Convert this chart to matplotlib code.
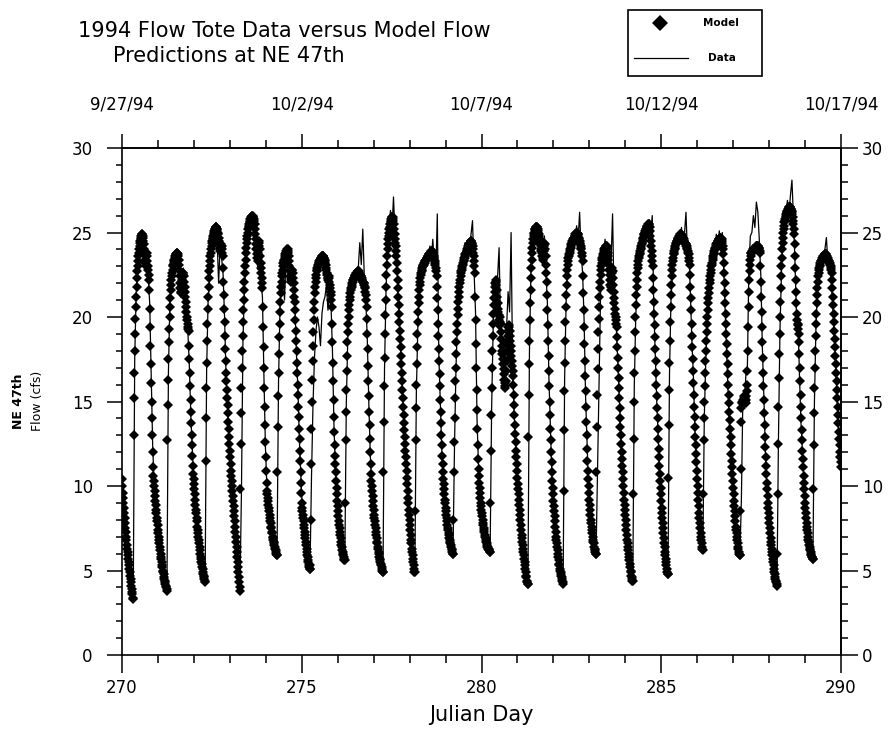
import numpy as np
import matplotlib
matplotlib.use("Agg")
import matplotlib.pyplot as plt
from matplotlib.ticker import MultipleLocator
from matplotlib.lines import Line2D
from matplotlib.patches import Rectangle

plt.rcParams['font.family'] = ['DejaVu Sans']

# Julian day at which each run of values starts (one run per diurnal cycle)
cycle_start = [270.0, 270.3125, 271.25, 272.3125, 273.28125, 274.3125, 275.22917,
               276.19792, 277.26042, 278.14583, 279.20833, 280.23958, 281.29167,
               282.27083, 283.1875, 284.20833, 285.1875, 286.15625, 287.1875,
               288.21875, 289.21875]

# model flow (cfs), 15 minute steps from each cycle start
model_flow = [
    # 270.0
    [10.4, 10.0, 9.6, 9.3, 9.0, 8.7, 8.4, 8.1, 7.8, 7.5, 7.3, 7.0, 6.8, 6.5, 6.3, 6.1, 5.9, 5.7,
     5.5, 5.3, 5.1, 4.9, 4.7, 4.5, 4.3, 4.1, 3.9, 3.7, 3.6, 3.4],
    # 270.3
    [3.3, 13.0, 15.2, 16.7, 18.0, 19.0, 19.9, 20.6, 21.2, 21.8, 22.3,
     22.7, 23.0, 23.3, 23.6, 23.8, 24.0, 24.2, 24.4, 24.5, 24.6, 24.7, 24.8, 24.9, 24.9,
     24.8, 24.7, 24.5, 24.3, 24.0, 23.7, 23.4, 23.2, 23.0, 23.3, 23.6, 23.8, 23.6, 23.3, 23.0, 22.8, 22.5, 22.2,
     21.6, 20.5, 19.4, 18.3, 17.2, 16.1, 15.0, 14.0, 13.0, 12.0, 11.1,
     10.6, 10.3, 10.0, 9.7, 9.4, 9.1, 8.9, 8.6, 8.4, 8.1, 7.9, 7.7, 7.4, 7.2, 7.0, 6.8, 6.6, 6.4,
     6.2, 6.0, 5.8, 5.7, 5.5, 5.3, 5.2, 5.0, 4.9, 4.8, 4.6, 4.5, 4.4, 4.3, 4.2, 4.1, 4.0, 3.9],
    # 271.25
    [3.8, 12.7, 14.8, 16.3, 17.5, 18.5, 19.3, 20.0, 20.6, 21.1, 21.6,
     21.9, 22.2, 22.4, 22.6, 22.8, 23.0, 23.1, 23.2, 23.3, 23.4, 23.5, 23.6, 23.6, 23.7, 23.7, 23.8, 23.8, 23.8, 23.7, 23.6,
     23.4, 23.1, 22.8, 22.4, 22.0, 21.7, 21.5, 21.4, 21.6, 21.9, 22.2, 22.5, 22.6, 22.6, 22.4, 22.1, 21.8, 21.5,
     21.2, 20.9, 20.6, 20.3, 20.0, 19.8, 19.6, 19.4, 19.3, 19.2,
     18.3, 17.5, 16.7, 15.9, 15.1, 14.4, 13.7, 13.0, 12.4, 11.8, 11.2, 10.7,
     10.4, 10.1, 9.8, 9.5, 9.2, 8.9, 8.6, 8.4, 8.1, 7.9, 7.6, 7.4, 7.2, 7.0, 6.8, 6.6, 6.4, 6.2,
     6.0, 5.8, 5.7, 5.5, 5.4, 5.2, 5.1, 4.9, 4.8, 4.7, 4.6, 4.5, 4.4],
    # 272.3
    [4.3, 11.5, 14.0, 15.8, 17.3, 18.6, 19.6, 20.5, 21.2, 21.8, 22.3,
     22.7, 23.0, 23.3, 23.6, 23.8, 24.0, 24.2, 24.4, 24.5, 24.6, 24.7, 24.8, 24.9, 25.0, 25.1, 25.2,
     25.2, 25.3, 25.3, 25.3, 25.2, 25.2,
     25.1, 25.0, 24.9, 24.7, 24.5, 24.3, 24.1, 24.0, 23.9, 24.1, 24.3, 24.2, 24.0, 23.8, 23.6,
     22.9, 22.1, 21.3, 20.5, 19.7, 18.9, 18.1, 17.4, 16.7,
     16.2, 15.7, 15.2, 14.8, 14.3, 13.8, 13.4, 12.9, 12.5, 12.1, 11.7, 11.3, 10.9,
     10.6, 10.3, 10.0, 9.7, 9.4, 9.1, 8.8, 8.5, 8.2, 7.9, 7.6, 7.3, 7.0, 6.7, 6.4, 6.1, 5.8,
     5.5, 5.2, 4.9, 4.6, 4.3, 4.0],
    # 273.3
    [3.8, 9.8, 12.5, 14.3, 15.8, 17.0, 18.0, 18.9, 19.7, 20.4, 21.0, 21.6, 22.1, 22.6, 23.0, 23.4,
     23.8, 24.1, 24.4,
     24.6, 24.8, 25.0, 25.2, 25.3, 25.4, 25.5, 25.6, 25.7, 25.8, 25.8, 25.9, 25.9, 26.0, 26.0, 26.0, 25.9,
     25.9, 25.8, 25.7, 25.5, 25.2, 24.9, 24.6, 24.3, 24.0, 23.7, 23.5, 23.3, 23.5, 23.8, 24.2, 24.5,
     24.4, 24.0, 23.6, 23.2, 22.9, 22.6, 22.3, 22.0, 21.7,
     20.6, 19.4, 18.2, 17.0, 15.8, 14.7, 13.6, 12.6, 11.7, 10.9, 10.2,
     9.7, 9.5, 9.3, 9.1, 8.9, 8.7, 8.5, 8.3, 8.1, 7.9, 7.8, 7.6, 7.5, 7.3, 7.2, 7.0, 6.9, 6.8,
     6.7, 6.6, 6.5, 6.4, 6.3, 6.2, 6.1, 6.0, 5.9],
    # 274.3
    [5.9, 10.8, 13.5, 15.3, 16.7, 17.8, 18.8, 19.6, 20.3, 20.9, 21.4,
     21.8, 22.1, 22.4, 22.6, 22.8, 23.0, 23.2, 23.3, 23.4, 23.5, 23.6, 23.7, 23.8, 23.8, 23.9, 23.9,
     24.0, 24.0, 23.9, 23.8,
     23.6, 23.3, 23.0, 22.7, 22.4, 22.2, 22.1, 22.3, 22.6, 22.8, 22.8, 22.6, 22.3, 22.0, 21.6, 21.2, 20.9,
     20.4, 19.8, 19.2, 18.6, 18.0, 17.3, 16.7, 16.0, 15.4, 14.7, 14.1, 13.4, 12.8, 12.1, 11.5, 10.8,
     10.2, 9.6, 9.0,
     8.7, 8.5, 8.3, 8.1, 7.9, 7.7, 7.5, 7.3, 7.1, 6.9, 6.7, 6.5, 6.3, 6.1, 5.9, 5.8, 5.6, 5.5, 5.3,
     5.2, 5.1],
    # 275.2
    [5.1, 5.3, 8.0, 11.3, 13.4, 15.0, 16.3, 17.4, 18.3, 19.1, 19.8, 20.4, 20.9, 21.4, 21.8,
     22.1, 22.3, 22.5, 22.7, 22.8, 22.9, 23.0, 23.1, 23.2, 23.2, 23.3, 23.3, 23.4, 23.4, 23.5, 23.5,
     23.5, 23.6, 23.6, 23.6, 23.6, 23.6, 23.5, 23.5, 23.4, 23.3,
     23.2, 23.1, 22.9, 22.8, 22.6, 22.5, 22.3, 22.2, 22.3, 22.4, 22.3, 22.1, 21.9, 21.7, 21.5, 21.3,
     21.0, 20.6,
     19.6, 18.5, 17.3, 16.2, 15.1, 14.1, 13.2, 12.4,
     11.8, 11.3, 10.8, 10.3, 9.9, 9.5, 9.1, 8.8, 8.5, 8.2, 7.9, 7.7, 7.5, 7.3, 7.1, 6.9, 6.7, 6.5,
     6.4, 6.2, 6.1, 6.0, 5.9, 5.8, 5.7, 5.6],
    # 276.2
    [5.6, 9.0, 12.7, 14.4, 15.7, 16.8, 17.7, 18.5, 19.1, 19.6, 20.0, 20.4, 20.7,
     21.0, 21.2, 21.4, 21.6, 21.7, 21.8, 21.9, 22.0, 22.1, 22.2, 22.2, 22.3, 22.3, 22.4, 22.4, 22.5,
     22.5, 22.5, 22.6, 22.6, 22.6, 22.7, 22.7, 22.7, 22.7, 22.6, 22.6, 22.5,
     22.5, 22.4, 22.4, 22.3, 22.3, 22.2, 22.2, 22.1, 22.1, 22.0, 22.0, 21.9, 21.8, 21.7, 21.5, 21.3,
     21.0, 20.6,
     19.9, 19.0, 18.1, 17.1, 16.2, 15.3, 14.4, 13.6, 12.8, 12.0, 11.3, 10.7,
     10.3, 10.0, 9.7, 9.4, 9.1, 8.8, 8.6, 8.3, 8.1, 7.9, 7.7, 7.5, 7.3, 7.1, 6.9, 6.7, 6.6, 6.4,
     6.3, 6.1, 6.0, 5.8, 5.7, 5.6, 5.5, 5.4, 5.3, 5.2, 5.1, 5.0, 4.9],
    # 277.3
    [4.9, 10.8, 13.8, 15.9, 17.6, 19.0, 20.1, 21.0, 21.8, 22.5, 23.1,
     23.6, 24.0, 24.3, 24.6, 24.8, 25.0, 25.2, 25.3, 25.5, 25.6, 25.7, 25.8, 25.8, 25.9, 25.9, 25.9,
     25.8,
     25.7, 25.5, 25.2, 24.9, 24.6, 24.4, 24.2, 23.9, 23.6,
     23.2, 22.7, 22.2, 21.7, 21.2, 20.7, 20.2, 19.7, 19.2, 18.7, 18.2, 17.7, 17.2, 16.7, 16.2, 15.7,
     15.2, 14.7, 14.2, 13.7, 13.3, 12.9, 12.5, 12.1, 11.7, 11.3, 10.9,
     10.5, 10.1, 9.7, 9.3, 9.0, 8.6, 8.3, 8.0, 7.7, 7.4, 7.1, 6.8, 6.6, 6.3, 6.1, 5.9, 5.7, 5.5,
     5.3, 5.1, 4.9],
    # 278.1
    [4.9, 8.5, 12.7, 14.6, 16.0, 17.2, 18.2, 19.0, 19.7, 20.3, 20.8, 21.2, 21.6,
     21.9, 22.1, 22.3, 22.5, 22.6, 22.7, 22.8, 22.9, 23.0, 23.0, 23.1, 23.1, 23.2, 23.2, 23.3, 23.3,
     23.4, 23.4, 23.4, 23.5, 23.5, 23.5, 23.6, 23.6, 23.6, 23.7, 23.7, 23.7, 23.8, 23.8, 23.8, 23.9,
     23.9, 23.9, 23.9, 23.8,
     23.7, 23.6, 23.5, 23.4, 23.3, 23.2, 23.1, 22.9, 22.7, 22.4,
     21.8, 21.1, 20.4, 19.6, 18.9, 18.1, 17.4, 16.6, 15.9, 15.1, 14.4, 13.7, 13.0, 12.4, 11.8, 11.3,
     10.8,
     10.4, 10.1, 9.8, 9.5, 9.2, 9.0, 8.7, 8.5, 8.3, 8.1, 7.9, 7.7, 7.5, 7.4, 7.2, 7.1, 6.9, 6.8,
     6.7, 6.6, 6.5, 6.4, 6.3, 6.2, 6.1, 6.0],
    # 279.2
    [6.0, 8.0, 10.8, 12.6, 14.0, 15.2, 16.2, 17.0, 17.8, 18.5, 19.1, 19.6, 20.1, 20.5, 20.9, 21.2,
     21.5, 21.8, 22.0, 22.2, 22.4,
     22.6, 22.7, 22.8, 22.9, 23.0, 23.1, 23.2, 23.3, 23.4, 23.5, 23.5, 23.6, 23.7, 23.7, 23.8, 23.9,
     23.9, 24.0, 24.1, 24.1, 24.2, 24.2, 24.3, 24.3, 24.4, 24.4, 24.5, 24.5, 24.5, 24.4,
     24.3, 24.2, 24.0, 23.8, 23.6, 23.3, 23.0, 22.6,
     21.2, 19.8, 18.4, 17.0, 15.7, 14.5, 13.4, 12.4, 11.6,
     11.0, 10.6, 10.2, 9.9, 9.6, 9.3, 9.0, 8.8, 8.6, 8.4, 8.2, 8.0, 7.8, 7.7, 7.5, 7.4, 7.3, 7.1,
     7.0, 6.9, 6.8, 6.7, 6.6, 6.5, 6.4, 6.4, 6.3, 6.3, 6.2, 6.2, 6.1],
    # 280.2
    [6.1, 9.0, 12.1, 14.2, 15.8, 17.0, 18.0, 18.9, 19.6, 20.2, 20.7, 21.1, 21.5, 21.8, 22.0,
     22.2, 22.1, 21.9, 21.6, 21.2, 20.8, 20.5, 20.3, 20.1, 19.8, 19.5, 19.7, 20.0, 19.6, 19.1, 18.7,
     18.3, 18.0, 17.8, 17.5, 17.2, 16.9, 16.6, 16.3, 16.1, 15.9, 15.8, 16.2, 16.8, 17.4, 18.0, 18.5,
     18.9, 19.2, 19.4, 19.5, 19.4, 19.2, 18.9, 18.6, 18.3, 18.0, 17.7, 17.4, 17.1, 16.8, 16.5,
     16.0, 15.4, 14.8, 14.2, 13.6, 13.1, 12.6, 12.1, 11.7, 11.3, 10.9, 10.5, 10.1, 9.8, 9.5, 9.2,
     8.9, 8.6, 8.3, 8.0, 7.7, 7.4, 7.1, 6.9, 6.7, 6.5, 6.3, 6.1, 5.9, 5.7, 5.5, 5.3, 5.1, 4.9, 4.7,
     4.6, 4.4, 4.3, 4.2],
    # 281.3
    [4.2, 12.9, 15.4, 17.2, 18.6, 19.8, 20.8, 21.6, 22.3, 22.9, 23.4,
     23.8, 24.1, 24.4, 24.6, 24.8, 24.9, 25.0, 25.1, 25.2, 25.2, 25.3, 25.3, 25.3, 25.3, 25.2, 25.2,
     25.1,
     25.0, 24.9, 24.8, 24.6, 24.5, 24.3, 24.2, 24.0, 23.9, 23.8, 23.6, 23.5, 23.4, 23.6, 23.9, 24.2,
     24.4, 24.3, 24.0, 23.6, 23.1, 22.6, 22.1,
     21.3, 20.4, 19.5, 18.6, 17.7, 16.8, 15.9, 15.0, 14.2, 13.4, 12.7, 12.0, 11.4, 10.8,
     10.3, 9.9, 9.5, 9.1, 8.8, 8.5, 8.2, 7.9, 7.6, 7.3, 7.0, 6.8, 6.6, 6.4, 6.2, 6.0, 5.8, 5.6,
     5.4, 5.3, 5.1, 5.0, 4.9, 4.8, 4.7, 4.6, 4.5, 4.4, 4.3],
    # 282.3
    [4.2, 9.7, 13.3, 15.6, 17.3, 18.6, 19.7, 20.6, 21.3, 21.9, 22.4, 22.8, 23.1,
     23.3, 23.5, 23.6, 23.7, 23.8, 23.9, 24.0, 24.1, 24.2, 24.3, 24.3, 24.4, 24.5, 24.5, 24.6, 24.6,
     24.7, 24.7, 24.8, 24.8, 24.9, 24.9, 25.0, 25.0, 25.0, 25.0, 24.9, 24.9,
     24.8, 24.7, 24.6, 24.5, 24.4, 24.3, 24.2, 24.1, 24.0, 23.8, 23.6, 23.3,
     22.4, 21.4, 20.4, 19.4, 18.4, 17.4, 16.5, 15.6, 14.7, 13.8, 13.0, 12.2, 11.5,
     10.9, 10.4, 10.0, 9.6, 9.2, 8.9, 8.6, 8.3, 8.0, 7.8, 7.6, 7.4, 7.2, 7.0, 6.8, 6.7, 6.6, 6.4,
     6.3, 6.2, 6.1, 6.0],
    # 283.2
    [6.0, 10.8, 13.5, 15.4, 16.9, 18.1, 19.1, 19.9, 20.6, 21.2, 21.7, 22.1, 22.5,
     22.8, 23.0, 23.2, 23.4, 23.5, 23.6, 23.7, 23.8, 23.9, 24.0, 24.0, 24.1, 24.1, 24.2, 24.2, 24.2,
     24.1, 24.0,
     23.8, 23.6, 23.4, 23.1, 22.8, 22.5, 22.2, 21.9, 21.6, 21.8, 22.2, 22.6, 22.9, 22.7, 22.3, 21.9,
     21.5, 21.1, 20.8, 20.5, 20.2, 20.0, 19.8, 19.6, 19.4,
     18.8, 18.2, 17.6, 17.0, 16.4, 15.8, 15.2, 14.6, 14.0, 13.5, 13.0, 12.5, 12.0, 11.6, 11.2, 10.8,
     10.4,
     10.0, 9.6, 9.2, 8.9, 8.6, 8.3, 8.0, 7.7, 7.4, 7.1, 6.8, 6.6, 6.4, 6.2, 6.0, 5.8, 5.6, 5.4,
     5.2, 5.0, 4.9, 4.7, 4.6, 4.5, 4.4],
    # 284.2
    [4.4, 9.5, 12.8, 15.0, 16.7, 18.0, 19.1, 20.0, 20.7, 21.3, 21.8, 22.2, 22.6,
     22.9, 23.1, 23.3, 23.5, 23.6, 23.7, 23.8, 23.9, 24.0, 24.1, 24.2, 24.3, 24.4, 24.5, 24.6, 24.7,
     24.8, 24.9, 24.9, 25.0, 25.1, 25.1, 25.2, 25.2, 25.3, 25.3, 25.4, 25.4, 25.5, 25.5, 25.5, 25.4,
     25.3, 25.1,
     24.8, 24.5, 24.2, 23.9, 23.6, 23.3, 23.0,
     22.3, 21.6, 20.9, 20.2, 19.5, 18.8, 18.1, 17.4, 16.7, 16.0, 15.3, 14.6, 14.0, 13.4, 12.8, 12.2,
     11.7, 11.2, 10.7,
     10.3, 9.9, 9.5, 9.1, 8.7, 8.4, 8.1, 7.8, 7.5, 7.2, 6.9, 6.6, 6.4, 6.1, 5.9, 5.7, 5.5, 5.3,
     5.1, 4.9, 4.8],
    # 285.2
    [4.8, 10.5, 13.6, 15.7, 17.3, 18.6, 19.7, 20.6, 21.3, 21.9, 22.4, 22.8, 23.1,
     23.3, 23.5, 23.7, 23.8, 23.9, 24.0, 24.1, 24.2, 24.3, 24.4, 24.4, 24.5, 24.5, 24.6, 24.6, 24.7,
     24.7, 24.8, 24.8, 24.8, 24.9, 24.9, 24.9, 24.9, 24.8, 24.8,
     24.7, 24.7, 24.6, 24.6, 24.5, 24.5, 24.4, 24.4, 24.3, 24.3, 24.2, 24.2, 24.1, 24.0, 23.9, 23.8,
     23.7, 23.5, 23.3, 23.1,
     22.5, 21.8, 21.1, 20.4, 19.6, 18.9, 18.2, 17.5, 16.8, 16.1, 15.4, 14.7, 14.1, 13.5, 12.9, 12.4,
     11.9, 11.4, 10.9, 10.4, 10.0, 9.6, 9.2, 8.8, 8.4, 8.1, 7.8, 7.5, 7.2, 7.0, 6.8, 6.6, 6.4, 6.3],
    # 286.2
    [6.2, 9.5, 12.7, 14.0, 15.0, 15.9, 16.7, 17.4, 18.0, 18.6, 19.1, 19.6, 20.0, 20.4, 20.8, 21.1,
     21.4, 21.7, 22.0, 22.2, 22.4, 22.6, 22.8, 23.0, 23.1, 23.2, 23.4, 23.5,
     23.6, 23.7, 23.8, 23.9, 24.0, 24.1, 24.1, 24.2, 24.3, 24.3, 24.4, 24.4, 24.5, 24.5, 24.6, 24.6,
     24.6, 24.7, 24.7, 24.7, 24.7, 24.6, 24.6, 24.5,
     24.4, 24.2, 24.0, 23.7,
     23.2, 22.6, 22.0, 21.4, 20.8, 20.2, 19.6, 19.0, 18.4, 17.8, 17.2, 16.6, 16.0, 15.4, 14.9, 14.4,
     13.9, 13.4, 12.9, 12.4, 11.9, 11.5, 11.1, 10.7,
     10.3, 9.9, 9.5, 9.1, 8.8, 8.5, 8.2, 7.9, 7.6, 7.4, 7.2, 7.0, 6.8, 6.6, 6.4, 6.3, 6.1, 6.0, 5.9],
    # 287.2
    [5.9, 8.5, 11.0, 13.8,
     14.6, 14.9, 15.0, 15.1, 15.0, 14.9, 15.0, 15.2, 15.3, 15.2, 15.0, 14.9, 15.1, 15.3, 15.6, 16.0,
     16.8, 18.0,
     19.4, 20.6, 21.5, 22.2, 22.7, 23.1, 23.4, 23.6, 23.8,
     23.8, 23.8, 23.9, 23.9, 23.9, 24.0, 24.0, 24.0, 24.0, 24.1, 24.1, 24.1, 24.1, 24.2, 24.2, 24.2,
     24.2, 24.2, 24.2, 24.1, 24.1, 24.0, 23.9, 23.8,
     23.0, 22.1, 21.2, 20.3, 19.4, 18.5, 17.6, 16.7, 15.9, 15.1, 14.3, 13.6, 12.9, 12.3, 11.7, 11.2,
     10.7, 10.2,
     9.8, 9.4, 9.0, 8.7, 8.4, 8.1, 7.8, 7.5, 7.2, 6.9, 6.7, 6.5, 6.3, 6.1, 5.9, 5.7, 5.5, 5.3,
     5.1, 4.9, 4.8, 4.6, 4.5, 4.4, 4.3, 4.2],
    # 288.2
    [4.1, 6.0, 9.5, 12.5, 14.7, 16.4, 17.8, 19.0, 20.0, 20.9, 21.7, 22.4, 23.0, 23.5, 24.0,
     24.4, 24.7, 25.0, 25.2, 25.4, 25.6, 25.7, 25.8, 25.9, 26.0, 26.1, 26.2, 26.2, 26.3, 26.3, 26.4,
     26.4, 26.5, 26.5, 26.5, 26.5, 26.5, 26.4, 26.4, 26.3, 26.2,
     26.1, 25.9, 25.7, 25.5, 25.2, 24.9,
     24.3, 23.6, 22.9, 22.2, 21.5, 20.8, 20.2, 19.8, 19.6, 19.5, 19.3, 19.0, 18.5, 17.8, 17.0, 16.2,
     15.4, 14.7, 14.0, 13.3, 12.7, 12.1, 11.6, 11.1,
     10.6, 10.2, 9.8, 9.4, 9.0, 8.7, 8.4, 8.1, 7.8, 7.6, 7.4, 7.2, 7.0, 6.8, 6.7, 6.5, 6.4, 6.3,
     6.2, 6.1, 6.0, 5.9, 5.8, 5.8, 5.7],
    # 289.2
    [5.7, 9.8, 12.4, 14.3, 15.8, 17.0, 18.0, 18.9, 19.6, 20.2, 20.8, 21.3, 21.7, 22.1, 22.4,
     22.6, 22.8, 22.9, 23.0, 23.1, 23.2, 23.3, 23.3, 23.4, 23.4, 23.5, 23.5, 23.5, 23.6, 23.6, 23.6,
     23.7, 23.7, 23.7, 23.7, 23.7, 23.6, 23.6,
     23.5, 23.5, 23.4, 23.4, 23.3, 23.3, 23.2, 23.2, 23.1, 23.0, 22.9, 22.8, 22.6,
     22.2, 21.7, 21.2, 20.7, 20.2, 19.7, 19.2, 18.7, 18.2, 17.7, 17.2, 16.7, 16.2, 15.7, 15.2, 14.7,
     14.2, 13.7, 13.2, 12.8, 12.4, 12.0, 11.7, 11.4, 11.1],
]

# flow tote data (cfs), hourly from each cycle start
tote_flow = [
    [10.3, 9.1, 7.7, 6.9, 5.8, 5.0, 4.2, 3.4],
    [3.4, 17.6, 21.5, 22.8, 24.3, 24.5, 24.6, 24.0, 23.0, 23.5, 22.4, 20.8, 16.5, 12.3, 10.1, 8.8,
     7.8, 7.1, 6.1, 5.5, 5.0, 4.4, 3.9],
    [3.9, 16.8, 20.9, 22.5, 23.3, 23.1, 23.9, 23.5, 22.6, 21.2, 22.3, 22.9, 21.0, 19.8, 19.1, 17.0,
     14.0, 12.1, 10.2, 8.8, 7.8, 7.1, 6.1, 5.4, 4.8, 4.4],
    [4.4, 16.9, 21.0, 22.2, 23.8, 24.9, 24.3, 25.4, 24.6, 22.0, 24.2, 23.5, 22.5, 19.9, 16.4, 14.6,
     13.1, 11.2, 9.9, 8.9, 7.5, 6.3, 5.0, 3.8],
    [3.8, 9.7, 18.6, 21.6, 23.5, 24.6, 25.2, 26.0, 25.6, 26.1, 24.6, 23.6, 22.8, 24.6, 22.2, 21.2,
     16.5, 12.3, 9.9, 8.8, 8.2, 7.4, 7.0, 6.4, 6.0],
    [5.9, 16.2, 20.6, 21.8, 22.9, 21.0, 23.6, 24.1, 23.0, 21.9, 23.1, 21.7, 20.6, 17.7, 15.6, 12.5,
     10.4, 8.4, 7.8, 6.8, 6.2, 5.4],
    [5.0, 10.5, 14.8, 17.6, 19.2, 20.0, 19.4, 18.3, 20.2, 20.9, 21.2, 21.9, 20.4, 21.3, 20.8, 18.0,
     13.6, 11.0, 9.4, 8.0, 7.2, 6.6, 5.9, 5.5],
    [5.4, 14.9, 18.8, 20.4, 21.3, 21.8, 22.0, 22.6, 22.3, 22.9, 24.4, 23.1, 25.2, 22.4, 21.0, 18.7,
     15.0, 11.8, 10.2, 8.6, 7.9, 7.0, 6.5, 5.7, 5.3, 4.9],
    [4.8, 16.9, 21.5, 24.3, 25.4, 26.3, 25.2, 27.1, 24.9, 23.9, 21.4, 19.9, 17.4, 15.9, 13.5, 12.3,
     10.3, 9.1, 7.6, 6.7, 5.6, 4.9],
    [4.8, 15.5, 19.4, 21.8, 22.8, 22.5, 23.4, 22.9, 23.8, 23.2, 24.2, 23.5, 24.6, 23.0, 22.5, 26.1,
     17.8, 14.9, 12.1, 10.6, 9.0, 8.4, 7.4, 7.0, 6.4, 6.0],
    [6.1, 12.5, 17.1, 19.8, 21.6, 22.9, 22.6, 23.6, 24.4, 23.4, 24.3, 23.8, 24.9, 25.7, 22.8, 20.3,
     14.0, 11.2, 9.5, 8.7, 7.7, 7.4, 6.8, 6.6, 6.1],
    [6.0, 14.5, 19.2, 21.9, 21.0, 22.4, 24.1, 19.0, 18.6, 17.3, 16.4, 19.4, 21.5, 20.3, 25.0, 17.2,
     14.5, 12.3, 11.0, 9.3, 7.8, 7.0, 6.0, 5.2, 4.5, 4.1],
    [4.1, 17.9, 22.7, 24.4, 24.6, 25.0, 25.5, 24.6, 24.9, 23.5, 23.9, 24.8, 22.7, 20.8, 16.4, 13.6,
     10.6, 9.2, 7.8, 6.9, 5.9, 5.4, 4.8, 4.3],
    [4.3, 16.4, 20.9, 23.4, 23.5, 24.4, 24.1, 24.9, 24.5, 25.4, 24.6, 26.2, 23.8, 22.6, 19.8, 15.2,
     12.4, 9.8, 8.7, 7.5, 6.9, 6.2],
    [6.0, 11.0, 16.2, 21.4, 23.0, 23.9, 24.6, 23.7, 23.9, 22.0, 23.3, 26.1, 21.0, 20.4, 18.3, 16.1,
     14.2, 11.6, 10.5, 8.7, 7.8, 6.5, 5.9, 4.9, 4.4],
    [4.3, 15.9, 20.1, 21.8, 22.9, 23.4, 24.8, 24.1, 25.4, 24.6, 25.6, 24.9, 25.1, 26.0, 20.6, 17.8,
     15.0, 12.9, 10.5, 9.0, 7.7, 6.7, 5.6, 4.8],
    [4.7, 16.6, 21.0, 22.6, 23.5, 24.5, 24.1, 25.0, 24.6, 25.3, 24.4, 24.9, 26.2, 23.7, 23.9, 21.2,
     18.5, 16.4, 13.2, 11.6, 9.4, 8.2, 6.9, 6.2],
    [6.1, 14.1, 17.5, 19.6, 21.0, 22.9, 23.6, 24.4, 23.7, 24.9, 24.2, 25.1, 24.3, 25.0, 22.7, 20.1,
     17.6, 15.2, 13.0, 11.5, 10.0, 8.6, 7.5, 6.6, 6.0],
    [5.8, 9.2, 15.3, 14.8, 16.6, 17.0, 23.0, 24.8, 25.0, 26.0, 25.3, 26.8, 26.2, 24.5, 22.4, 18.2,
     15.3, 12.1, 10.0, 8.8, 7.4, 6.6, 5.6, 4.8, 4.2],
    [4.0, 12.8, 19.2, 22.6, 24.9, 25.2, 26.3, 26.9, 26.1, 27.2, 28.1, 25.9, 23.3, 20.2, 19.9, 16.6,
     13.8, 12.0, 10.3, 8.6, 7.7, 6.7, 6.2, 5.8],
    [5.6, 14.9, 19.3, 21.5, 23.0, 22.8, 23.8, 23.4, 24.0, 24.7, 23.2, 23.6, 22.4, 21.0, 19.2, 17.4,
     15.3, 13.4, 11.6],
]

date_ticks = [270, 275, 280, 285, 290]
date_labels = ['9/27/94', '10/2/94', '10/7/94', '10/12/94', '10/17/94']

# build time axes for both series
t_model = np.concatenate([s + np.arange(len(v)) / 96.0 for s, v in zip(cycle_start, model_flow)])
q_model = np.concatenate(model_flow)
t_data = np.concatenate([s + np.arange(len(v)) / 24.0 for s, v in zip(cycle_start, tote_flow)])
q_data = np.concatenate(tote_flow)

fig = plt.figure(figsize=(8.89, 7.34), dpi=100)
ax = fig.add_axes([122 / 889, 1 - 655 / 734, 719 / 889, 507 / 734])

ax.plot(t_model, q_model, ls='none', marker='D', ms=5.3, mew=0, color='black', zorder=2)
ax.plot(t_data, q_data, color='black', lw=0.9, zorder=3)

ax.set_xlim(270, 290)
ax.set_ylim(0, 30)
ax.xaxis.set_major_locator(MultipleLocator(5))
ax.xaxis.set_minor_locator(MultipleLocator(1))
ax.yaxis.set_major_locator(MultipleLocator(5))
ax.yaxis.set_minor_locator(MultipleLocator(1))

for sp in ax.spines.values():
    sp.set_linewidth(1.2)

ax.tick_params(which='both', direction='out', width=1.1, top=False, right=False, labelsize=12)
ax.tick_params(axis='y', which='major', length=11, pad=10)
ax.tick_params(axis='y', which='minor', length=4)
ax.tick_params(axis='x', which='major', length=13, pad=4)
ax.tick_params(axis='x', which='minor', length=6)

# flow scale repeated on the right
rax = ax.secondary_yaxis('right')
rax.yaxis.set_major_locator(MultipleLocator(5))
rax.yaxis.set_minor_locator(MultipleLocator(1))
rax.tick_params(which='both', direction='out', width=1.1, labelsize=12)
rax.tick_params(which='major', length=12, pad=3)
rax.tick_params(which='minor', length=5)
rax.spines['right'].set_linewidth(1.2)

# calendar dates along the top
top = ax.secondary_xaxis('top')
top.set_xticks(date_ticks, labels=date_labels)
top.xaxis.set_minor_locator(MultipleLocator(1))
top.tick_params(which='both', direction='out', width=1.1, labelsize=12)
top.tick_params(which='major', length=10, pad=15)
top.tick_params(which='minor', length=6)
top.spines['top'].set_linewidth(1.2)

# no offset labels on any of the scales
for a in (ax.xaxis, ax.yaxis, rax.yaxis, top.xaxis):
    a.offsetText.set_visible(False)

ax.set_xlabel('Julian Day', fontsize=15, labelpad=6)

fig.text(19 / 889, 1 - 401 / 734, 'NE 47th', rotation=90, ha='center', va='center',
         fontsize=9, fontweight='bold')
fig.text(37 / 889, 1 - 401 / 734, 'Flow (cfs)', rotation=90, ha='center', va='center',
         fontsize=9)

fig.text(78 / 889, 1 - 31 / 734, '1994 Flow Tote Data versus Model Flow',
         ha='left', va='center', fontsize=15)
fig.text(113 / 889, 1 - 56 / 734, 'Predictions at NE 47th',
         ha='left', va='center', fontsize=15)

# legend box
fig.patches.append(Rectangle((628 / 889, 1 - 76 / 734), 134 / 889, 66 / 734,
                             transform=fig.transFigure, fill=False, lw=1.2, ec='black'))
fig.lines.append(Line2D([660 / 889], [1 - 23 / 734], transform=fig.transFigure,
                        marker='D', ms=8, mew=0, color='black', ls='none'))
fig.lines.append(Line2D([634 / 889, 688 / 889], [1 - 58 / 734, 1 - 58 / 734],
                        transform=fig.transFigure, color='black', lw=0.9))
fig.text(703 / 889, 1 - 23 / 734, 'Model', ha='left', va='center', fontsize=7.5,
         fontweight='bold')
fig.text(708 / 889, 1 - 58 / 734, 'Data', ha='left', va='center', fontsize=7.5,
         fontweight='bold')

fig.savefig('out.png', dpi=100)
